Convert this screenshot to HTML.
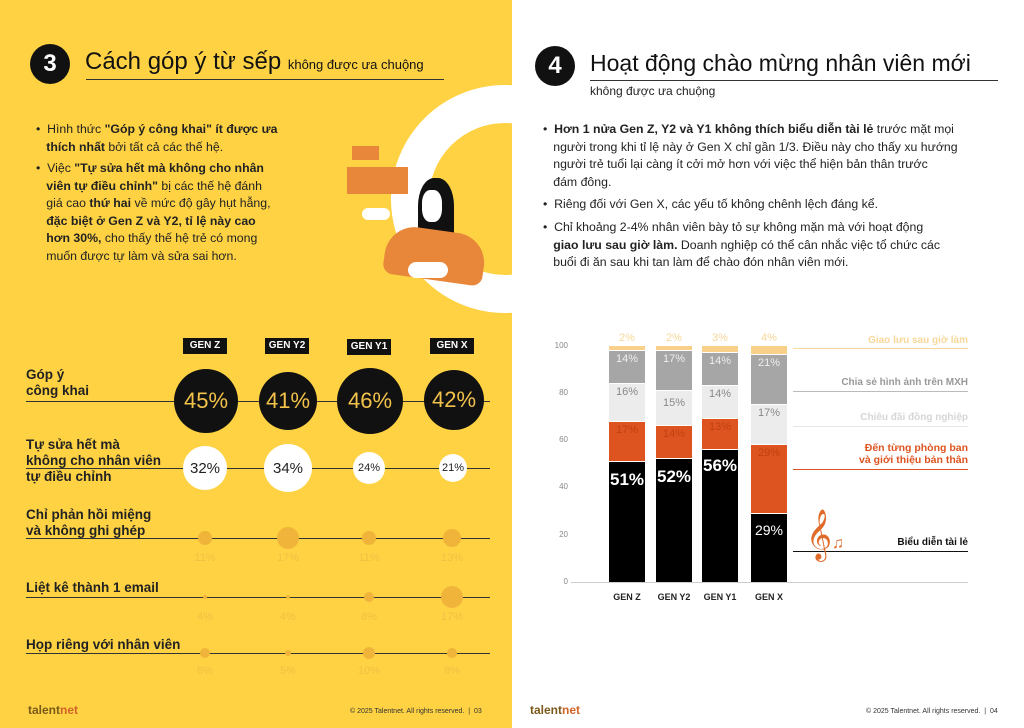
<!DOCTYPE html>
<html><head><meta charset="utf-8"><style>
*{margin:0;padding:0;box-sizing:border-box}
body{width:1024px;height:728px;position:relative;overflow:hidden;font-family:"Liberation Sans","DejaVu Sans",sans-serif;background:#fff}
.a{position:absolute;white-space:nowrap}
.left{position:absolute;left:0;top:0;width:512px;height:728px;background:#FED243;overflow:hidden}
.t{font-size:12.3px;color:#222;line-height:17.6px}
.hl{position:absolute;height:1px;background:#333}
.circ{position:absolute;border-radius:50%;display:flex;align-items:center;justify-content:center}
.gen{position:absolute;background:#111;color:#fff;font-weight:bold;font-size:10px;width:44px;height:16px;line-height:16px;text-align:center}
.lab{font-weight:bold;font-size:13.5px;color:#222;line-height:16px}
.sm{font-size:11px;color:#f2bf44;width:40px;text-align:center}
.seg{position:absolute;display:flex;align-items:flex-start;justify-content:center;font-size:11px;padding-top:2px}
</style></head><body>
<div class="left">
  <div class="circ" style="left:391px;top:85px;width:228px;height:228px;border:38px solid #fff;background:transparent"></div>
  <!-- illustration -->
  <div class="a" style="left:352px;top:146px;width:27px;height:14px;background:#E8863A"></div>
  <div class="a" style="left:347px;top:167px;width:61px;height:27px;background:#E8863A"></div>
  <div class="a" style="left:410px;top:190px;width:30px;height:36px;background:#fff;border-radius:40%"></div>
  <div class="a" style="left:418px;top:178px;width:36px;height:62px;background:#111;border-radius:45% 45% 10% 10%"></div>
  <div class="a" style="left:422px;top:190px;width:20px;height:32px;background:#fff;border-radius:40%"></div>
  <div class="a" style="left:385px;top:230px;width:100px;height:50px;background:#E8863A;border-radius:30px 30px 10px 10px;transform:rotate(8deg)"></div>
  <div class="a" style="left:362px;top:208px;width:28px;height:12px;background:#fff;border-radius:6px"></div>
  <div class="a" style="left:408px;top:262px;width:40px;height:16px;background:#fff;border-radius:8px"></div>
</div>
<!-- left header -->
<div class="circ" style="left:30px;top:44px;width:40px;height:40px;background:#111;color:#fff;font-size:24px;font-weight:bold">3</div>
<div class="a" style="left:85px;top:48px;font-size:24px;color:#111">Cách góp ý từ sếp <span style="font-size:13px">không được ưa chuộng</span></div>
<div class="hl" style="left:86px;top:79px;width:358px"></div>
<div class="a t" style="left:36px;top:121px">•&nbsp; Hình thức <b>"Góp ý công khai" ít được ưa</b><br>&nbsp;&nbsp;&nbsp;<b>thích nhất</b> bởi tất cả các thế hệ.</div>
<div class="a t" style="left:36px;top:160px">•&nbsp; Việc <b>"Tự sửa hết mà không cho nhân</b><br>&nbsp;&nbsp;&nbsp;<b>viên tự điều chỉnh"</b> bị các thế hệ đánh<br>&nbsp;&nbsp;&nbsp;giá cao <b>thứ hai</b> về mức độ gây hụt hẫng,<br>&nbsp;&nbsp;&nbsp;<b>đặc biệt ở Gen Z và Y2, tỉ lệ này cao</b><br>&nbsp;&nbsp;&nbsp;<b>hơn 30%,</b> cho thấy thế hệ trẻ có mong<br>&nbsp;&nbsp;&nbsp;muốn được tự làm và sửa sai hơn.</div>

<div class="gen" style="left:183px;top:338px">GEN Z</div>
<div class="gen" style="left:265px;top:338px">GEN Y2</div>
<div class="gen" style="left:347px;top:339px">GEN Y1</div>
<div class="gen" style="left:430px;top:338px">GEN X</div>

<div class="a lab" style="left:26px;top:367px">Góp ý<br>công khai</div>
<div class="hl" style="left:26px;top:401px;width:464px"></div>
<div class="circ" style="left:174px;top:369px;width:64px;height:64px;background:#111;color:#F2C24A;font-size:22px">45%</div>
<div class="circ" style="left:259px;top:372px;width:58px;height:58px;background:#111;color:#F2C24A;font-size:22px">41%</div>
<div class="circ" style="left:337px;top:368px;width:66px;height:66px;background:#111;color:#F2C24A;font-size:22px">46%</div>
<div class="circ" style="left:424px;top:370px;width:60px;height:60px;background:#111;color:#F2C24A;font-size:22px">42%</div>

<div class="a lab" style="left:26px;top:437px">Tự sửa hết mà<br>không cho nhân viên<br>tự điều chỉnh</div>
<div class="hl" style="left:26px;top:468px;width:464px"></div>
<div class="circ" style="left:183px;top:446px;width:44px;height:44px;background:#fff;color:#222;font-size:15px">32%</div>
<div class="circ" style="left:264px;top:444px;width:48px;height:48px;background:#fff;color:#222;font-size:15px">34%</div>
<div class="circ" style="left:353px;top:452px;width:32px;height:32px;background:#fff;color:#222;font-size:11px">24%</div>
<div class="circ" style="left:439px;top:454px;width:28px;height:28px;background:#fff;color:#222;font-size:11px">21%</div>

<div class="a lab" style="left:26px;top:507px">Chỉ phản hồi miệng<br>và không ghi ghép</div>
<div class="hl" style="left:26px;top:538px;width:464px"></div>
<div class="circ" style="left:198px;top:531px;width:14px;height:14px;background:#F0B43A"></div>
<div class="circ" style="left:277px;top:527px;width:22px;height:22px;background:#F0B43A"></div>
<div class="circ" style="left:362px;top:531px;width:14px;height:14px;background:#F0B43A"></div>
<div class="circ" style="left:443px;top:529px;width:18px;height:18px;background:#F0B43A"></div>
<div class="a sm" style="left:185px;top:552px">11%</div><div class="a sm" style="left:268px;top:552px">17%</div><div class="a sm" style="left:349px;top:552px">11%</div><div class="a sm" style="left:432px;top:552px">13%</div>

<div class="a lab" style="left:26px;top:580px">Liệt kê thành 1 email</div>
<div class="hl" style="left:26px;top:597px;width:464px"></div>
<div class="circ" style="left:203px;top:595px;width:4px;height:4px;background:#F0B43A"></div>
<div class="circ" style="left:286px;top:595px;width:4px;height:4px;background:#F0B43A"></div>
<div class="circ" style="left:364px;top:592px;width:10px;height:10px;background:#F0B43A"></div>
<div class="circ" style="left:441px;top:586px;width:22px;height:22px;background:#F0B43A"></div>
<div class="a sm" style="left:185px;top:611px">4%</div><div class="a sm" style="left:268px;top:611px">4%</div><div class="a sm" style="left:349px;top:611px">8%</div><div class="a sm" style="left:432px;top:611px">17%</div>

<div class="a lab" style="left:26px;top:637px">Họp riêng với nhân viên</div>
<div class="hl" style="left:26px;top:653px;width:464px"></div>
<div class="circ" style="left:200px;top:648px;width:10px;height:10px;background:#F0B43A"></div>
<div class="circ" style="left:285px;top:650px;width:6px;height:6px;background:#F0B43A"></div>
<div class="circ" style="left:363px;top:647px;width:12px;height:12px;background:#F0B43A"></div>
<div class="circ" style="left:447px;top:648px;width:10px;height:10px;background:#F0B43A"></div>
<div class="a sm" style="left:185px;top:665px">8%</div><div class="a sm" style="left:268px;top:665px">5%</div><div class="a sm" style="left:349px;top:665px">10%</div><div class="a sm" style="left:432px;top:665px">8%</div>

<div class="a" style="left:28px;top:703px;font-size:12px;font-weight:bold;color:#7a5a1a">talent<span style="color:#d2642a">net</span></div>
<div class="a" style="left:350px;top:708px;font-size:7px;color:#333">© 2025 Talentnet. All rights reserved. &nbsp;|&nbsp; 03</div>

<!-- right page -->
<div class="circ" style="left:535px;top:46px;width:40px;height:40px;background:#111;color:#fff;font-size:24px;font-weight:bold">4</div>
<div class="a" style="left:590px;top:50px;font-size:23px;color:#111">Hoạt động chào mừng nhân viên mới</div>
<div class="hl" style="left:590px;top:80px;width:408px"></div>
<div class="a" style="left:590px;top:84px;font-size:12px;color:#222">không được ưa chuộng</div>
<div class="a t" style="left:543px;top:121px">•&nbsp; <b>Hơn 1 nửa Gen Z, Y2 và Y1 không thích biểu diễn tài lẻ</b> trước mặt mọi<br>&nbsp;&nbsp;&nbsp;người trong khi tỉ lệ này ở Gen X chỉ gần 1/3. Điều này cho thấy xu hướng<br>&nbsp;&nbsp;&nbsp;người trẻ tuổi lại càng ít cởi mở hơn với việc thể hiện bản thân trước<br>&nbsp;&nbsp;&nbsp;đám đông.</div>
<div class="a t" style="left:543px;top:196px">•&nbsp; Riêng đối với Gen X, các yếu tố không chênh lệch đáng kể.</div>
<div class="a t" style="left:543px;top:219px">•&nbsp; Chỉ khoảng 2-4% nhân viên bày tỏ sự không mặn mà với hoạt động<br>&nbsp;&nbsp;&nbsp;<b>giao lưu sau giờ làm.</b> Doanh nghiệp có thể cân nhắc việc tổ chức các<br>&nbsp;&nbsp;&nbsp;buổi đi ăn sau khi tan làm để chào đón nhân viên mới.</div>

<!-- chart -->
<div class="a" style="left:550px;top:341px;font-size:8px;color:#888;width:18px;text-align:right">100</div>
<div class="a" style="left:550px;top:388px;font-size:8px;color:#888;width:18px;text-align:right">80</div>
<div class="a" style="left:550px;top:435px;font-size:8px;color:#888;width:18px;text-align:right">60</div>
<div class="a" style="left:550px;top:482px;font-size:8px;color:#888;width:18px;text-align:right">40</div>
<div class="a" style="left:550px;top:530px;font-size:8px;color:#888;width:18px;text-align:right">20</div>
<div class="a" style="left:550px;top:577px;font-size:8px;color:#888;width:18px;text-align:right">0</div>
<div class="hl" style="left:571px;top:582px;width:397px;background:#ccc"></div>

<div class="seg" style="left:609px;top:462px;width:36px;height:120px;background:#000;color:#fff;font-size:17px;font-weight:bold;padding-top:8px">51%</div>
<div class="seg" style="left:609px;top:422px;width:36px;height:39px;background:#DD5420;color:#c04010">17%</div>
<div class="seg" style="left:609px;top:384px;width:36px;height:37px;background:#ececec;color:#888">16%</div>
<div class="seg" style="left:609px;top:351px;width:36px;height:32px;background:#a6a6a6;color:#eee">14%</div>
<div class="seg" style="left:609px;top:346px;width:36px;height:4px;background:#F9D08A"></div>
<div class="a" style="left:609px;top:332px;width:36px;text-align:center;font-size:11px;color:#f7d89a">2%</div>

<div class="seg" style="left:656px;top:459px;width:36px;height:123px;background:#000;color:#fff;font-size:17px;font-weight:bold;padding-top:8px">52%</div>
<div class="seg" style="left:656px;top:426px;width:36px;height:32px;background:#DD5420;color:#c04010">14%</div>
<div class="seg" style="left:656px;top:391px;width:36px;height:34px;background:#ececec;color:#888;padding-top:6px">15%</div>
<div class="seg" style="left:656px;top:351px;width:36px;height:39px;background:#a6a6a6;color:#eee">17%</div>
<div class="seg" style="left:656px;top:346px;width:36px;height:4px;background:#F9D08A"></div>
<div class="a" style="left:656px;top:332px;width:36px;text-align:center;font-size:11px;color:#f7d89a">2%</div>

<div class="seg" style="left:702px;top:450px;width:36px;height:132px;background:#000;color:#fff;font-size:17px;font-weight:bold;padding-top:6px">56%</div>
<div class="seg" style="left:702px;top:419px;width:36px;height:30px;background:#DD5420;color:#c04010">13%</div>
<div class="seg" style="left:702px;top:386px;width:36px;height:32px;background:#ececec;color:#888">14%</div>
<div class="seg" style="left:702px;top:353px;width:36px;height:32px;background:#a6a6a6;color:#eee">14%</div>
<div class="seg" style="left:702px;top:346px;width:36px;height:6px;background:#F9D08A"></div>
<div class="a" style="left:702px;top:332px;width:36px;text-align:center;font-size:11px;color:#f7d89a">3%</div>

<div class="seg" style="left:751px;top:514px;width:36px;height:68px;background:#000;color:#fff;font-size:14px;padding-top:8px">29%</div>
<div class="seg" style="left:751px;top:445px;width:36px;height:68px;background:#DD5420;color:#c04010">29%</div>
<div class="seg" style="left:751px;top:405px;width:36px;height:39px;background:#ececec;color:#888">17%</div>
<div class="seg" style="left:751px;top:355px;width:36px;height:49px;background:#a6a6a6;color:#eee">21%</div>
<div class="seg" style="left:751px;top:346px;width:36px;height:8px;background:#F9D08A"></div>
<div class="a" style="left:751px;top:332px;width:36px;text-align:center;font-size:11px;color:#f7d89a">4%</div>

<div class="a" style="left:609px;top:592px;width:36px;text-align:center;font-size:9px;font-weight:bold;color:#222">GEN Z</div>
<div class="a" style="left:652px;top:592px;width:44px;text-align:center;font-size:9px;font-weight:bold;color:#222">GEN Y2</div>
<div class="a" style="left:698px;top:592px;width:44px;text-align:center;font-size:9px;font-weight:bold;color:#222">GEN Y1</div>
<div class="a" style="left:751px;top:592px;width:36px;text-align:center;font-size:9px;font-weight:bold;color:#222">GEN X</div>

<div class="a" style="right:56px;top:335px;font-size:10px;font-weight:bold;color:#f7d89a">Giao lưu sau giờ làm</div>
<div class="hl" style="left:793px;top:348px;width:175px;background:#f7d89a"></div>
<div class="a" style="right:56px;top:377px;font-size:10px;font-weight:bold;color:#999">Chia sẻ hình ảnh trên MXH</div>
<div class="hl" style="left:793px;top:391px;width:175px;background:#bbb"></div>
<div class="a" style="right:56px;top:412px;font-size:10px;font-weight:bold;color:#d6d6d6">Chiêu đãi đồng nghiệp</div>
<div class="hl" style="left:793px;top:426px;width:175px;background:#e6e6e6"></div>
<div class="a" style="right:56px;top:442px;font-size:10.5px;font-weight:bold;color:#DD5420;text-align:right;line-height:12px">Đến từng phòng ban<br>và giới thiệu bản thân</div>
<div class="hl" style="left:793px;top:469px;width:175px;background:#DD5420"></div>
<div class="a" style="right:56px;top:537px;font-size:10px;font-weight:bold;color:#111">Biểu diễn tài lẻ</div>
<div class="hl" style="left:793px;top:551px;width:175px;background:#111"></div>
<div class="a" style="left:806px;top:510px;font-size:44px;color:#E06A2A;line-height:50px">𝄞</div>
<div class="a" style="left:832px;top:535px;font-size:16px;color:#E06A2A">♫</div>

<div class="a" style="left:530px;top:703px;font-size:12px;font-weight:bold;color:#7a5a1a">talent<span style="color:#d2642a">net</span></div>
<div class="a" style="left:866px;top:708px;font-size:7px;color:#333">© 2025 Talentnet. All rights reserved. &nbsp;|&nbsp; 04</div>
</body></html>
